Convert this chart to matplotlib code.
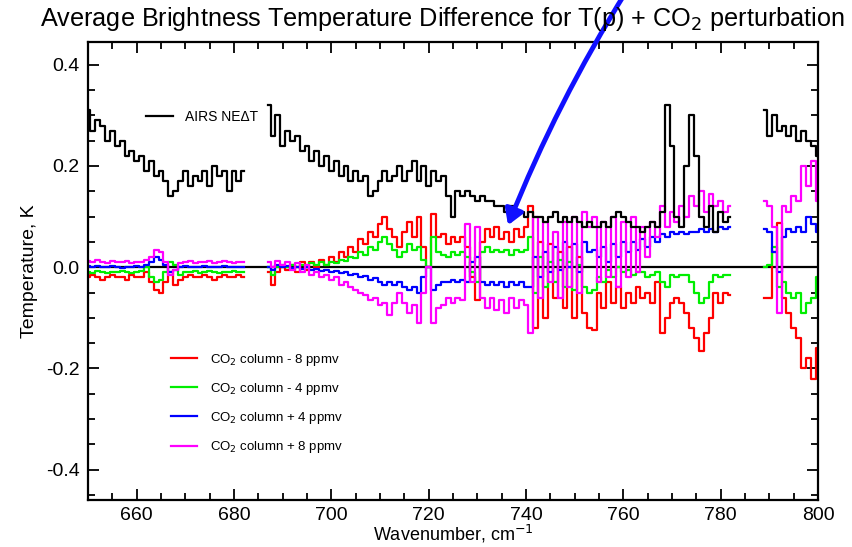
import numpy as np
import matplotlib
matplotlib.use("Agg")
import matplotlib.pyplot as plt
from matplotlib.lines import Line2D
from matplotlib.ticker import MultipleLocator

plt.rcParams["font.family"] = ["Liberation Sans", "DejaVu Sans"]
plt.rcParams["axes.unicode_minus"] = False

# wavenumber segments (gaps between them have no channels)
wn_a = np.arange(650, 683)
wn_b = np.arange(687, 783)
wn_c = np.arange(789, 801)

# AIRS NEdT
nedt_a = [0.31, 0.27, 0.29, 0.28, 0.25, 0.27, 0.24, 0.25, 0.22, 0.23, 0.21,
          0.22, 0.19, 0.21, 0.18, 0.19, 0.17, 0.14, 0.15, 0.17, 0.19, 0.16,
          0.18, 0.17, 0.19, 0.16, 0.20, 0.18, 0.19, 0.15, 0.19, 0.17, 0.19]
nedt_b = [0.32, 0.26, 0.30, 0.24, 0.27, 0.25, 0.26, 0.23, 0.24, 0.21,
          0.23, 0.20, 0.22, 0.19, 0.21, 0.18, 0.20, 0.17, 0.19, 0.17,
          0.18, 0.14, 0.15, 0.17, 0.19, 0.17, 0.18, 0.20, 0.17, 0.19,
          0.21, 0.17, 0.20, 0.16, 0.19, 0.17, 0.18, 0.14, 0.10, 0.15,
          0.14, 0.15, 0.14, 0.13, 0.14, 0.13, 0.13, 0.12, 0.12, 0.11,
          0.12, 0.11, 0.11, 0.10, 0.11, 0.10, 0.10, 0.09, 0.10, 0.11,
          0.09, 0.10, 0.09, 0.10, 0.09, 0.08, 0.09, 0.08, 0.08, 0.09,
          0.08, 0.10, 0.11, 0.10, 0.09, 0.08, 0.08, 0.07, 0.08, 0.09,
          0.08, 0.11, 0.32, 0.24, 0.10, 0.08, 0.20, 0.30, 0.22, 0.10,
          0.08, 0.12, 0.07, 0.11, 0.09, 0.10]
nedt_c = [0.31, 0.26, 0.30, 0.27, 0.28, 0.26, 0.28, 0.25, 0.27, 0.25, 0.24, 0.22]

# CO2 column - 8 ppmv
m8_a = [-0.02, -0.015, -0.02, -0.025, -0.02, -0.015, -0.02, -0.02, -0.025, -0.015, -0.02,
        -0.02, -0.01, -0.03, -0.045, -0.05, -0.03, -0.01, -0.035, -0.025, -0.02, -0.015,
        -0.02, -0.02, -0.015, -0.02, -0.025, -0.02, -0.015, -0.02, -0.02, -0.015, -0.02]
m8_b = [-0.01, -0.035, -0.01, 0.0, -0.005, 0.005, -0.01, 0.01, -0.005, 0.01,
        0.0, 0.015, 0.005, 0.02, 0.01, 0.03, 0.02, 0.04, 0.03, 0.055,
        0.045, 0.07, 0.06, 0.085, 0.10, 0.075, 0.06, 0.04, 0.07, 0.09,
        0.06, 0.10, 0.04, 0.0, 0.105, 0.06, 0.065, 0.045, 0.06, 0.05,
        0.06, 0.04, -0.02, -0.065, 0.05, 0.075, 0.06, 0.08, 0.055, 0.07,
        0.05, 0.075, 0.06, 0.08, 0.12, -0.12, 0.05, -0.10, 0.045, -0.06,
        0.03, -0.08, 0.04, -0.10, 0.02, -0.09, -0.12, -0.125, -0.05, -0.08,
        -0.03, -0.07, -0.04, -0.08, -0.05, -0.07, -0.04, -0.06, -0.05, -0.07,
        -0.03, -0.13, -0.10, -0.07, -0.06, -0.07, -0.09, -0.12, -0.14, -0.165,
        -0.13, -0.10, -0.05, -0.07, -0.05, -0.055]
m8_c = [-0.06, -0.06, 0.03, 0.087, -0.06, -0.09, -0.12, -0.14, -0.20, -0.18, -0.22, -0.16]

# CO2 column - 4 ppmv
m4_a = [-0.01, -0.012, -0.008, -0.01, -0.012, -0.01, -0.01, -0.008, -0.01, -0.012, -0.01,
        -0.008, 0.0, -0.02, -0.03, -0.025, -0.01, 0.01, 0.005, -0.015, -0.01, -0.01,
        -0.008, -0.012, -0.01, -0.008, -0.01, -0.012, -0.01, -0.01, -0.008, -0.01, -0.01]
m4_b = [0.0, -0.015, 0.0, 0.005, 0.0, 0.005, 0.0, 0.005, 0.0, 0.008,
        0.005, 0.01, 0.005, 0.01, 0.008, 0.015, 0.012, 0.02, 0.018, 0.03,
        0.025, 0.04, 0.035, 0.05, 0.06, 0.045, 0.035, 0.02, 0.03, 0.045,
        0.035, 0.04, 0.015, 0.0, 0.06, 0.03, 0.025, 0.02, 0.03, 0.025,
        0.03, 0.02, -0.01, -0.03, 0.03, 0.04, 0.03, 0.035, 0.03, 0.035,
        0.025, 0.035, 0.03, 0.035, 0.06, -0.05, 0.02, -0.04, 0.01, -0.03,
        0.015, -0.04, 0.01, -0.045, 0.005, -0.04, -0.05, -0.045, -0.02, -0.03,
        -0.005, -0.02, 0.0, -0.01, -0.005, -0.015, -0.01, -0.01, -0.02, -0.015,
        -0.01, -0.03, -0.04, -0.015, -0.02, -0.015, -0.015, -0.03, -0.05, -0.07,
        -0.06, -0.03, -0.015, -0.02, -0.015, -0.015]
m4_c = [0.0, 0.005, 0.04, -0.04, -0.03, -0.05, -0.06, -0.05, -0.09, -0.07, -0.06, -0.02]

# CO2 column + 4 ppmv
p4_a = [0.002, 0.0, 0.003, 0.001, 0.0, 0.002, 0.0, -0.002, 0.001, 0.0, 0.002,
        0.0, 0.005, 0.01, 0.02, 0.015, 0.005, -0.01, -0.005, 0.0, 0.002, 0.0,
        0.001, 0.0, 0.002, 0.0, 0.001, 0.0, 0.002, 0.0, 0.001, 0.0, 0.0]
p4_b = [0.0, -0.005, 0.005, 0.0, 0.002, -0.002, 0.0, -0.003, 0.0, -0.005,
        -0.003, -0.007, -0.005, -0.01, -0.008, -0.012, -0.01, -0.015, -0.013, -0.02,
        -0.018, -0.025, -0.022, -0.03, -0.035, -0.03, -0.035, -0.03, -0.04, -0.045,
        -0.04, -0.05, -0.02, 0.0, -0.045, -0.035, -0.03, -0.03, -0.025, -0.03,
        -0.025, -0.03, 0.01, 0.02, -0.03, -0.035, -0.03, -0.035, -0.03, -0.04,
        -0.03, -0.035, -0.03, -0.04, -0.04, 0.02, -0.02, 0.03, -0.01, 0.04,
        -0.005, 0.05, 0.0, 0.045, -0.01, 0.05, 0.03, 0.035, 0.02, 0.04,
        0.01, 0.045, 0.02, 0.05, 0.03, 0.05, 0.035, 0.055, 0.04, 0.06,
        0.05, 0.065, 0.06, 0.07, 0.065, 0.07, 0.065, 0.07, 0.07, 0.075,
        0.07, 0.075, 0.07, 0.08, 0.075, 0.08]
p4_c = [0.075, 0.07, 0.03, -0.01, 0.06, 0.075, 0.07, 0.08, 0.07, 0.10, 0.085, 0.07]

# CO2 column + 8 ppmv
p8_a = [0.012, 0.01, 0.015, 0.01, 0.008, 0.012, 0.01, 0.01, 0.012, 0.008, 0.01,
        0.01, 0.015, 0.02, 0.035, 0.03, 0.01, -0.015, -0.005, 0.008, 0.01, 0.012,
        0.008, 0.01, 0.01, 0.012, 0.008, 0.01, 0.012, 0.01, 0.008, 0.01, 0.01]
p8_b = [0.01, 0.0, 0.012, 0.005, 0.01, -0.005, 0.008, -0.01, 0.005, -0.015,
        -0.01, -0.02, -0.015, -0.025, -0.02, -0.035, -0.03, -0.04, -0.045, -0.05,
        -0.055, -0.065, -0.06, -0.075, -0.07, -0.095, -0.07, -0.05, -0.07, -0.09,
        -0.075, -0.11, -0.05, 0.0, -0.11, -0.08, -0.075, -0.06, -0.07, -0.06,
        -0.065, 0.085, -0.03, 0.08, -0.06, -0.08, -0.06, -0.085, -0.065, -0.09,
        -0.06, -0.08, -0.065, -0.075, -0.13, 0.10, -0.06, 0.09, -0.03, 0.07,
        -0.06, 0.09, -0.04, 0.10, -0.05, 0.11, 0.08, 0.10, -0.03, 0.09,
        -0.02, 0.10, -0.04, 0.09, -0.02, 0.10, -0.01, 0.08, 0.02, 0.09,
        0.06, 0.12, 0.08, 0.11, 0.09, 0.12, 0.10, 0.14, 0.12, 0.15,
        0.11, 0.145, 0.12, 0.13, 0.11, 0.12]
p8_c = [0.13, 0.12, 0.08, -0.09, 0.12, 0.11, 0.14, 0.13, 0.20, 0.16, 0.21, 0.13]

series = [
    ("CO$_2$ column - 8 ppmv", "#ff0000", (m8_a, m8_b, m8_c)),
    ("CO$_2$ column - 4 ppmv", "#00ee00", (m4_a, m4_b, m4_c)),
    ("CO$_2$ column + 4 ppmv", "#0000ff", (p4_a, p4_b, p4_c)),
    ("CO$_2$ column + 8 ppmv", "#ff00ff", (p8_a, p8_b, p8_c)),
]

fig = plt.figure(figsize=(8.53, 5.47), dpi=100)
ax = fig.add_axes([0.1032, 0.0859, 0.8558, 0.8373])

ax.axhline(0.0, color="black", linewidth=1.6, zorder=1)

for label, color, segs in series:
    for x, y in zip((wn_a, wn_b, wn_c), segs):
        ax.plot(x, y, color=color, linewidth=1.6, drawstyle="steps-mid", zorder=2)

for x, y in zip((wn_a, wn_b, wn_c), (nedt_a, nedt_b, nedt_c)):
    ax.plot(x, y, color="black", linewidth=1.6, drawstyle="steps-mid", zorder=3)

ax.set_xlim(650, 800)
ax.set_ylim(-0.46, 0.445)
ax.xaxis.set_minor_locator(MultipleLocator(5))
ax.yaxis.set_major_locator(MultipleLocator(0.2))
ax.yaxis.set_minor_locator(MultipleLocator(0.05))
ax.set_xticks(np.arange(660, 801, 20))
ax.tick_params(which="both", direction="in", top=True, right=True, width=1.3,
               labelsize=14, pad=6)
ax.tick_params(axis="x", which="major", pad=5)
ax.tick_params(which="major", length=8)
ax.tick_params(which="minor", length=5)
ax.yaxis.set_major_formatter(matplotlib.ticker.FormatStrFormatter("%.1f"))
for s in ax.spines.values():
    s.set_linewidth(1.6)

ax.set_xlabel("Wavenumber, cm$^{-1}$", fontsize=13)
ax.xaxis.set_label_coords(0.5, -0.05)
ax.set_ylabel("Temperature, K", fontsize=14, labelpad=6)

fig.text(40 / 853, 1 - 19 / 547,
         "Average Brightness Temperature Difference for T(p) + CO$_2$ perturbation",
         fontsize=18.2, ha="left", va="center")

leg1 = ax.legend(handles=[Line2D([], [], color="black", linewidth=1.6)],
                 labels=["AIRS NE\u0394T"], loc="center left",
                 bbox_to_anchor=(0.062, 0.836), frameon=False, fontsize=10,
                 handlelength=1.95, handletextpad=0.9)
ax.add_artist(leg1)
ax.legend(handles=[Line2D([], [], color=c, linewidth=1.6) for _, c, _ in series],
          labels=[l for l, _, _ in series], loc="upper left",
          bbox_to_anchor=(0.098, 0.35), frameon=False, fontsize=9.5,
          handlelength=1.95, handletextpad=0.95, labelspacing=1.0)

# arrow pointing at the CO2 signal
ax.annotate("", xy=(736.3, 0.083), xytext=(760.6, 0.545),
            annotation_clip=False,
            arrowprops=dict(arrowstyle="-|>,head_length=0.9,head_width=0.55",
                            color="#1010ff", linewidth=3.5,
                            connectionstyle="arc3,rad=0.045",
                            shrinkA=0, shrinkB=0))

fig.savefig("out.png", dpi=100)
